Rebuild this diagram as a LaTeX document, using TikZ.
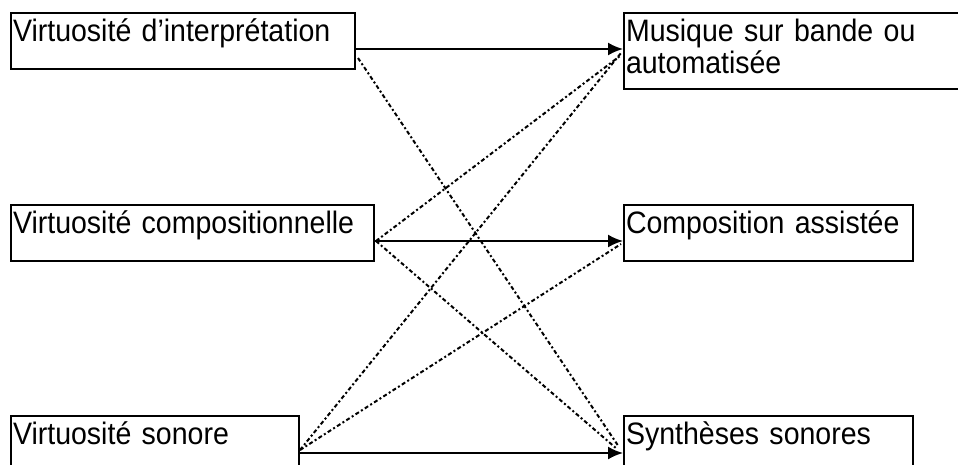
\documentclass[tikz,border=0pt]{standalone}
\usepackage{fontspec}
\setmainfont[FakeStretch=0.92]{Liberation Sans}
\usetikzlibrary{arrows.meta}
\begin{document}
\begin{tikzpicture}[x=1pt,y=-1pt,
  box/.style={draw, line width=2pt, anchor=north west, inner xsep=2pt, inner ysep=3pt,
    align=left, font=\fontsize{31pt}{32.5pt}\selectfont, text height=25pt},
  solidarrow/.style={line width=2pt, -{Latex[length=15pt,width=13pt]}},
  dashdotline/.style={line width=2pt, dash pattern=on 4pt off 2.5pt on 2pt off 2.5pt}]
\useasboundingbox (0,0) rectangle (958,464);
\node[box, minimum width=344pt, minimum height=56pt, text width=340pt, text depth=25pt] (v1) at (10,12) {Virtuosité d’interprétation};
\node[box, minimum width=363pt, minimum height=56pt, text width=359pt, text depth=25pt] (v2) at (10,204) {Virtuosité compositionnelle};
\node[box, minimum width=288pt, minimum height=56pt, text width=284pt, text depth=25pt] (v3) at (10,415) {Virtuosité sonore};
\node[box, minimum width=350pt, minimum height=76pt, text width=346pt, text depth=45pt] (m) at (623,12) {Musique sur bande ou\\automatisée};
\node[box, minimum width=289pt, minimum height=56pt, text width=285pt, text depth=25pt] (c) at (623,204) {Composition assistée};
\node[box, minimum width=289pt, minimum height=56pt, text width=285pt, text depth=25pt] (s) at (623,415) {Synthèses sonores};
% solid arrows
\draw[solidarrow] ([yshift=-8pt]v1.east) -- ([yshift=2pt]m.west);
\draw[solidarrow] ([yshift=-8pt]v2.east) -- ([yshift=-8pt]c.west);
\draw[solidarrow] ([yshift=-9pt]v3.east) -- ([yshift=-9pt]s.west);
% dash-dot lines
\draw[dashdotline] ([xshift=2pt,yshift=12pt]v1.south east) -- ([xshift=-4pt,yshift=-3pt]s.west);
\draw[dashdotline] ([xshift=1pt,yshift=-8pt]v2.east) -- ([xshift=-3pt,yshift=-5pt]m.west);
\draw[dashdotline] ([xshift=1pt,yshift=-8pt]v2.east) -- ([xshift=-6pt,yshift=-5pt]s.west);
\draw[dashdotline] ([yshift=-6pt]v3.east) -- ([xshift=-2pt,yshift=-2pt]m.west);
\draw[dashdotline] ([yshift=-6pt]v3.east) -- ([xshift=-2pt,yshift=-11pt]c.west);
\end{tikzpicture}
\end{document}
